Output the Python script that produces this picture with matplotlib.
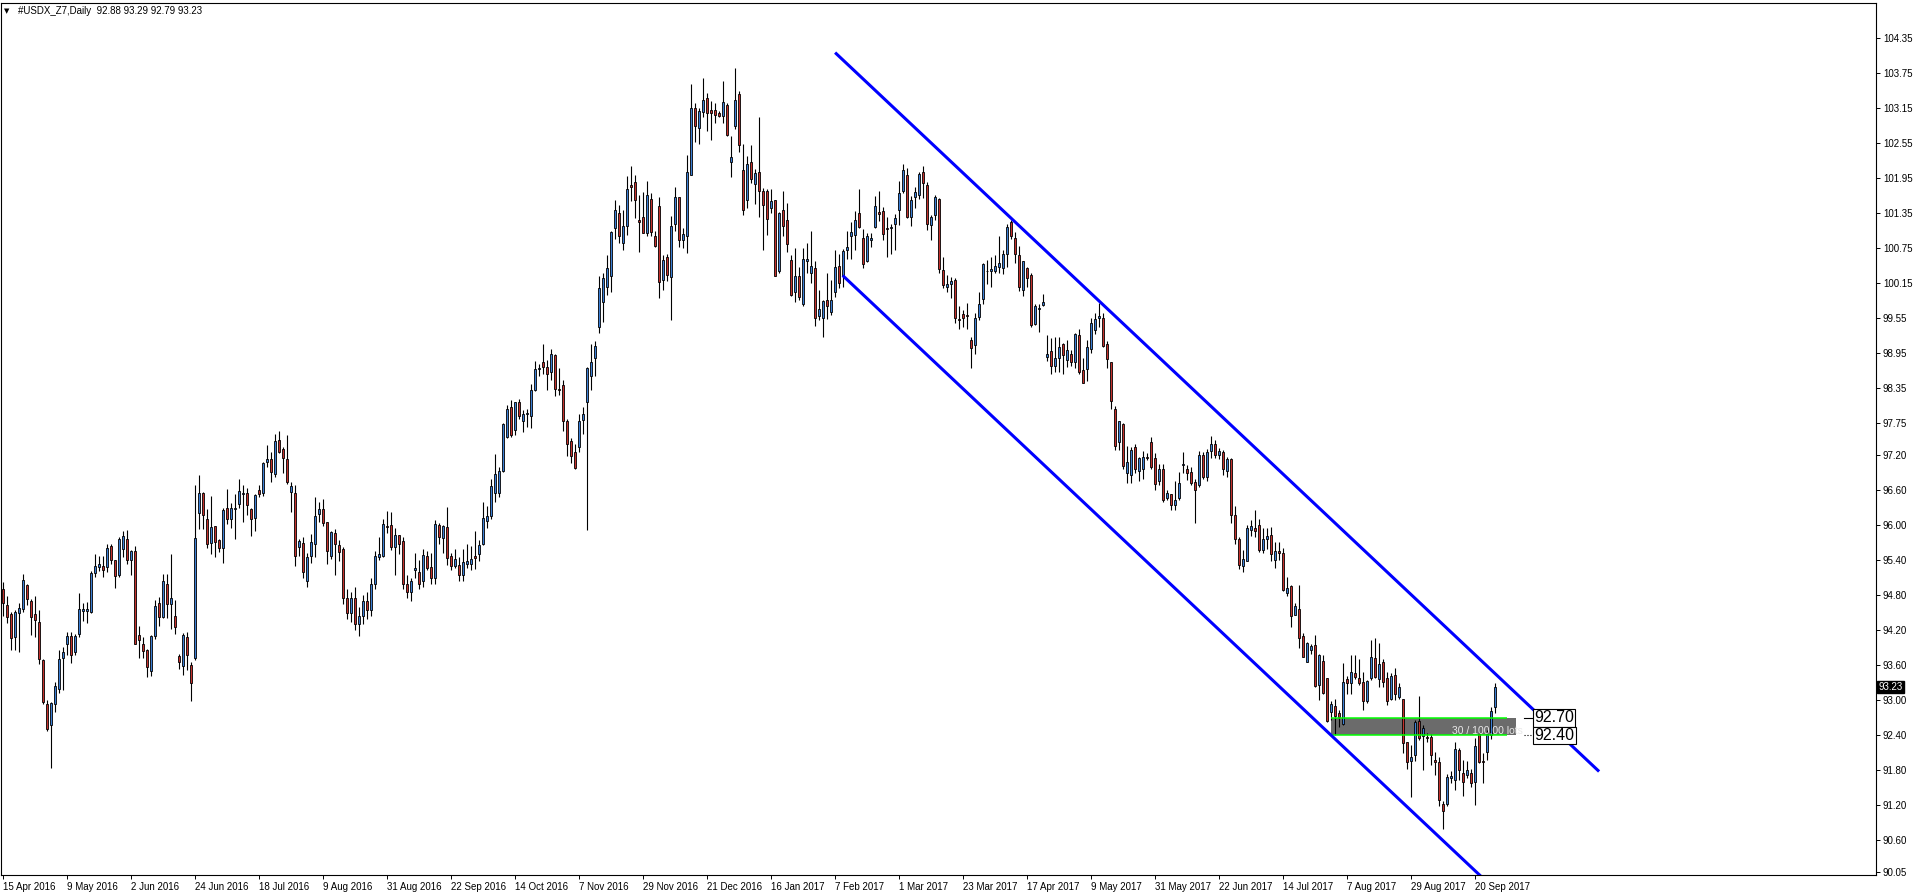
import numpy as np
import matplotlib
matplotlib.use("Agg")
import matplotlib.pyplot as plt
from matplotlib.patches import Rectangle
from matplotlib.transforms import blended_transform_factory

plt.rcParams['font.family'] = ['Liberation Sans', 'DejaVu Sans']

# daily bars, #USDX_Z7, 15 Apr 2016 .. late Sep 2017
opens = [
    94.90, 94.63, 94.48, 94.08, 94.49, 94.57, 94.97, 94.71, 94.48, 94.34,
    93.69, 92.94, 92.57, 92.94, 93.20, 93.73, 93.96, 94.10, 93.82, 94.13,
    94.53, 94.53, 94.52, 95.18, 95.29, 95.31, 95.29, 95.64, 95.41, 95.14,
    95.60, 95.77, 95.41, 95.56, 94.12, 93.96, 93.86, 93.51, 94.11, 94.67,
    94.43, 95.00, 94.65, 94.44, 93.76, 93.59, 94.08, 93.60, 93.73, 96.21,
    96.56, 96.10, 95.70, 95.98, 95.74, 95.61, 96.30, 96.11, 96.28, 96.37,
    96.54, 96.55, 96.27, 96.13, 96.60, 96.55, 97.09, 97.14, 96.87, 97.46,
    97.30, 97.14, 96.57, 96.56, 95.62, 95.69, 95.05, 95.48, 95.67, 96.19,
    96.27, 96.05, 95.48, 95.86, 95.66, 95.59, 94.75, 94.50, 94.75, 94.30,
    94.45, 94.70, 94.55, 95.00, 95.46, 95.48, 95.99, 96.00, 95.62, 95.83,
    95.73, 95.00, 94.85, 95.24, 95.20, 95.05, 95.47, 95.28, 95.10, 96.00,
    95.78, 95.97, 95.47, 95.31, 95.32, 95.15, 95.33, 95.33, 95.48, 95.50,
    95.67, 96.08, 96.15, 96.56, 96.55, 96.93, 97.52, 98.02, 97.63, 98.11,
    97.78, 97.90, 97.88, 98.32, 98.67, 98.80, 98.72, 98.62, 98.91, 98.33,
    98.40, 97.78, 97.44, 97.25, 97.34, 97.80, 98.11, 98.56, 98.86, 99.40,
    99.82, 100.09, 100.28, 101.10, 101.35, 100.83, 101.12, 101.83, 101.88, 101.23,
    101.28, 101.00, 101.59, 100.96, 101.47, 100.21, 100.59, 100.26, 101.16, 101.63,
    100.88, 100.96, 102.01, 103.15, 102.81, 103.08, 103.32, 103.12, 103.12, 103.07,
    103.01, 103.21, 102.23, 102.85, 103.39, 102.09, 101.57, 102.23, 101.85, 102.05,
    101.73, 101.72, 101.43, 101.58, 100.35, 101.40, 101.23, 100.55, 99.99, 100.27,
    99.80, 100.53, 100.32, 100.40, 99.59, 99.56, 99.86, 99.66, 99.99, 100.45,
    100.28, 100.71, 100.95, 100.97, 101.35, 100.93, 100.53, 100.88, 101.11, 101.37,
    101.38, 101.09, 101.10, 101.17, 101.41, 101.73, 102.00, 101.29, 101.63, 101.66,
    102.06, 101.83, 101.15, 101.31, 101.59, 100.37, 100.08, 100.14, 100.20, 99.54,
    99.62, 99.60, 99.17, 99.09, 99.57, 99.87, 100.35, 100.35, 100.35, 100.42,
    100.40, 100.64, 101.19, 100.93, 100.63, 100.04, 100.40, 100.29, 99.45, 99.70,
    99.77, 98.88, 98.99, 98.73, 98.86, 99.10, 98.84, 98.93, 98.79, 99.26,
    98.66, 98.67, 99.02, 99.35, 99.56, 99.55, 99.11, 98.79, 98.00, 97.42,
    97.74, 96.89, 96.86, 97.34, 96.93, 96.96, 97.16, 97.43, 97.16, 96.75,
    96.96, 96.47, 96.53, 96.35, 96.46, 97.03, 96.97, 96.91, 96.74, 96.69,
    97.21, 96.83, 97.28, 97.39, 97.21, 97.26, 96.93, 97.13, 96.17, 95.77,
    95.31, 95.39, 95.91, 95.96, 96.01, 95.58, 95.77, 95.83, 95.40, 95.56,
    95.53, 94.84, 94.96, 94.47, 94.56, 94.10, 93.66, 93.86, 93.95, 93.26,
    93.67, 93.38, 92.80, 92.90, 92.78, 92.59, 93.36, 93.29, 93.46, 93.38,
    93.31, 92.99, 93.39, 93.72, 93.36, 93.65, 93.38, 93.02, 93.43, 93.06,
    93.02, 92.29, 91.96, 92.06, 92.64, 92.38, 92.37, 92.37, 91.98, 91.95,
    91.22, 91.22, 91.67, 91.63, 92.15, 91.75, 91.72, 91.75, 91.60, 92.43,
    91.96, 92.11, 92.40, 92.88,
]
highs = [
    95.02, 94.78, 94.52, 94.54, 94.66, 95.16, 95.00, 94.74, 94.78, 94.54,
    93.70, 93.01, 92.97, 93.32, 93.86, 93.92, 94.17, 94.17, 94.14, 94.84,
    94.67, 94.68, 95.22, 95.50, 95.47, 95.47, 95.67, 95.67, 95.41, 95.80,
    95.90, 95.91, 95.58, 95.64, 94.27, 94.08, 93.88, 94.12, 94.72, 94.77,
    95.16, 95.16, 95.50, 94.72, 93.80, 94.16, 94.17, 93.65, 96.69, 96.86,
    96.57, 96.27, 96.50, 95.99, 95.77, 96.30, 96.62, 96.38, 96.54, 96.80,
    96.69, 96.63, 96.29, 96.53, 96.69, 97.09, 97.37, 97.26, 97.57, 97.61,
    97.34, 97.54, 96.74, 96.69, 95.76, 95.80, 95.53, 95.85, 96.49, 96.39,
    96.45, 96.05, 95.90, 95.94, 95.75, 95.62, 94.90, 94.85, 94.95, 94.60,
    94.80, 94.85, 95.10, 95.56, 95.79, 96.11, 96.25, 96.22, 95.96, 95.83,
    95.80, 95.15, 95.10, 95.53, 95.40, 95.60, 95.56, 95.52, 96.09, 96.03,
    96.00, 96.32, 95.52, 95.60, 95.45, 95.60, 95.68, 95.64, 95.90, 95.75,
    96.40, 96.33, 96.80, 97.22, 96.99, 97.76, 98.06, 98.15, 98.12, 98.16,
    97.97, 97.99, 98.42, 98.82, 98.77, 99.11, 98.83, 99.02, 98.93, 98.70,
    98.49, 97.82, 97.49, 97.39, 97.91, 98.02, 98.72, 99.10, 99.16, 100.27,
    100.32, 100.63, 101.04, 101.57, 101.48, 101.40, 101.99, 102.15, 102.00, 101.66,
    101.71, 101.90, 101.70, 101.04, 101.62, 100.63, 100.65, 101.30, 101.80, 101.63,
    101.09, 102.35, 103.56, 103.23, 103.15, 103.67, 103.41, 103.27, 103.24, 103.10,
    103.61, 103.23, 102.67, 103.84, 103.44, 102.53, 102.33, 102.52, 102.10, 103.00,
    101.78, 101.76, 101.76, 101.58, 101.36, 101.73, 101.52, 100.63, 100.75, 100.42,
    100.75, 100.84, 101.04, 100.53, 100.03, 99.86, 100.32, 100.21, 100.72, 100.65,
    100.73, 101.04, 101.20, 101.39, 101.77, 101.07, 101.00, 101.00, 101.64, 101.73,
    101.46, 101.28, 101.17, 101.33, 101.90, 102.19, 102.12, 101.64, 101.80, 102.06,
    102.16, 101.89, 101.32, 101.66, 101.60, 100.59, 100.29, 100.26, 100.23, 99.76,
    99.69, 99.81, 99.23, 99.63, 99.99, 100.50, 100.55, 100.59, 100.63, 100.95,
    100.72, 101.17, 101.23, 101.03, 100.79, 100.53, 100.43, 100.33, 99.79, 99.80,
    99.96, 99.26, 99.21, 99.22, 99.23, 99.12, 99.17, 99.00, 99.30, 99.36,
    98.86, 99.17, 99.56, 99.63, 99.81, 99.64, 99.16, 98.79, 98.05, 97.79,
    97.76, 97.35, 97.34, 97.39, 97.17, 97.28, 97.23, 97.52, 97.23, 97.05,
    97.05, 96.60, 96.54, 96.75, 96.92, 97.25, 97.03, 96.99, 96.80, 97.28,
    97.26, 97.30, 97.53, 97.46, 97.32, 97.29, 97.17, 97.15, 96.33, 95.79,
    95.58, 96.00, 96.09, 96.26, 96.10, 95.96, 95.95, 95.97, 95.72, 95.71,
    95.61, 95.12, 94.97, 94.67, 94.97, 94.16, 94.00, 93.96, 94.12, 93.80,
    93.78, 93.38, 92.98, 93.02, 92.83, 93.64, 93.42, 93.78, 93.78, 93.71,
    93.48, 93.35, 94.03, 94.06, 93.99, 93.70, 93.49, 93.46, 93.55, 93.29,
    93.03, 92.29, 92.23, 92.66, 93.07, 92.58, 92.44, 92.43, 92.12, 92.02,
    91.27, 91.74, 91.79, 92.29, 92.19, 91.98, 91.96, 91.83, 92.35, 92.45,
    92.09, 92.49, 92.89, 93.29,
]
lows = [
    94.44, 94.33, 93.86, 93.86, 93.83, 94.52, 94.63, 94.12, 94.09, 93.63,
    92.94, 92.48, 91.84, 92.80, 93.13, 93.18, 93.77, 93.64, 93.77, 94.09,
    94.36, 94.32, 94.50, 95.12, 95.22, 95.12, 95.20, 95.34, 94.93, 95.12,
    95.45, 95.33, 95.14, 93.96, 93.73, 93.73, 93.40, 93.42, 94.05, 94.28,
    94.41, 94.41, 94.22, 94.14, 93.54, 93.43, 93.52, 92.98, 93.69, 95.94,
    95.94, 95.61, 95.50, 95.46, 95.54, 95.36, 96.02, 95.95, 95.77, 96.30,
    96.06, 96.17, 95.82, 95.90, 96.49, 96.50, 97.00, 96.74, 96.83, 97.24,
    96.89, 96.70, 96.23, 95.30, 95.47, 95.10, 94.95, 95.36, 95.46, 96.06,
    95.98, 95.34, 95.42, 95.15, 95.39, 94.65, 94.40, 94.35, 94.20, 94.10,
    94.30, 94.40, 94.45, 94.90, 95.40, 95.46, 95.86, 95.58, 95.15, 95.51,
    94.90, 94.75, 94.70, 95.10, 94.90, 94.95, 95.23, 95.00, 95.00, 95.68,
    95.53, 95.32, 95.23, 95.26, 95.05, 95.05, 95.26, 95.24, 95.25, 95.39,
    95.66, 95.95, 96.11, 96.40, 96.49, 96.92, 97.49, 97.52, 97.54, 97.82,
    97.60, 97.69, 97.67, 98.30, 98.55, 98.59, 98.32, 98.49, 98.22, 98.23,
    97.62, 97.19, 97.07, 96.96, 97.26, 97.56, 95.91, 98.32, 98.55, 99.30,
    99.49, 99.95, 100.00, 100.91, 100.83, 100.72, 100.97, 101.55, 101.27, 100.69,
    101.00, 100.95, 100.95, 100.76, 99.89, 100.04, 100.19, 99.51, 101.04, 100.76,
    100.75, 100.66, 102.00, 102.57, 102.53, 102.99, 102.76, 102.61, 102.89, 103.00,
    102.89, 102.67, 101.96, 102.79, 102.40, 101.31, 101.43, 101.86, 101.51, 101.28,
    100.71, 100.97, 101.35, 100.28, 100.33, 100.96, 100.69, 99.93, 99.83, 99.86,
    99.76, 100.32, 100.16, 99.41, 99.52, 99.22, 99.53, 99.61, 99.92, 100.06,
    100.09, 100.56, 100.57, 100.71, 101.09, 100.41, 100.51, 100.77, 101.09, 101.21,
    100.88, 100.60, 100.64, 100.71, 101.15, 101.70, 101.26, 101.12, 101.43, 101.59,
    101.60, 101.06, 100.88, 101.23, 100.33, 100.06, 99.99, 99.89, 99.47, 99.36,
    99.39, 99.37, 98.69, 98.93, 99.52, 99.80, 100.13, 100.09, 100.32, 100.33,
    100.30, 100.43, 100.90, 100.50, 100.02, 99.93, 100.09, 99.39, 99.43, 99.31,
    99.75, 98.82, 98.59, 98.63, 98.63, 98.59, 98.72, 98.73, 98.70, 98.60,
    98.43, 98.48, 98.95, 99.28, 99.40, 99.06, 98.69, 97.99, 97.29, 97.29,
    96.96, 96.72, 96.72, 96.89, 96.76, 96.79, 97.12, 96.97, 96.60, 96.69,
    96.40, 96.43, 96.26, 96.26, 96.44, 96.89, 96.78, 96.69, 96.03, 96.66,
    96.80, 96.75, 97.15, 97.16, 97.13, 96.86, 96.83, 96.03, 95.68, 95.25,
    95.20, 95.38, 95.82, 95.79, 95.55, 95.53, 95.60, 95.39, 95.26, 95.40,
    94.88, 94.79, 94.26, 94.46, 93.89, 93.75, 93.65, 93.80, 93.23, 93.00,
    93.10, 92.63, 92.66, 92.40, 92.55, 92.58, 93.11, 93.11, 93.36, 93.26,
    92.83, 92.95, 93.35, 93.38, 93.23, 93.23, 92.92, 93.00, 93.00, 93.03,
    92.10, 91.83, 91.35, 91.96, 92.32, 91.80, 92.29, 91.89, 91.72, 91.18,
    90.79, 91.18, 91.58, 91.46, 91.63, 91.36, 91.66, 91.52, 91.20, 91.92,
    91.58, 91.98, 92.33, 92.79,
]
closes = [
    94.67, 94.42, 94.06, 94.52, 94.59, 95.07, 94.73, 94.43, 94.37, 93.70,
    92.97, 92.50, 92.96, 93.24, 93.70, 93.82, 94.11, 93.78, 94.11, 94.56,
    94.57, 94.56, 95.19, 95.30, 95.33, 95.24, 95.61, 95.40, 95.13, 95.77,
    95.82, 95.41, 95.56, 93.96, 94.03, 93.84, 93.57, 94.10, 94.61, 94.42,
    95.04, 94.65, 94.75, 94.26, 93.65, 94.12, 93.78, 93.29, 95.78, 96.55,
    96.18, 95.68, 95.97, 95.72, 95.61, 96.26, 96.10, 96.30, 96.30, 96.58,
    96.55, 96.35, 96.10, 96.51, 96.54, 97.06, 97.14, 96.91, 97.44, 97.26,
    97.15, 96.74, 96.67, 95.48, 95.73, 95.20, 95.46, 95.72, 96.16, 96.27,
    96.03, 95.56, 95.88, 95.67, 95.55, 94.75, 94.50, 94.75, 94.30, 94.45,
    94.70, 94.55, 95.00, 95.47, 95.51, 96.02, 95.97, 95.63, 95.83, 95.67,
    95.00, 94.85, 95.05, 95.27, 95.00, 95.49, 95.26, 95.10, 96.02, 95.79,
    95.99, 95.44, 95.31, 95.42, 95.15, 95.37, 95.39, 95.43, 95.44, 95.66,
    96.12, 96.15, 96.67, 96.87, 96.93, 97.74, 98.00, 97.54, 98.11, 97.88,
    97.90, 97.93, 98.32, 98.67, 98.69, 98.71, 98.59, 98.93, 98.33, 98.31,
    97.78, 97.40, 97.19, 96.98, 97.79, 97.91, 98.70, 98.80, 99.07, 100.06,
    100.23, 100.40, 101.02, 101.40, 100.96, 101.13, 101.76, 101.79, 101.57, 101.20,
    101.00, 101.66, 101.03, 100.79, 100.17, 100.55, 100.29, 101.13, 101.63, 100.89,
    100.99, 102.05, 103.15, 102.85, 103.10, 103.29, 103.06, 103.06, 103.03, 103.02,
    103.26, 102.68, 102.31, 103.29, 102.51, 101.41, 102.19, 101.94, 102.04, 101.72,
    101.48, 101.24, 101.55, 100.28, 101.35, 101.13, 100.82, 99.95, 100.28, 99.92,
    100.56, 100.57, 100.44, 99.56, 99.70, 99.85, 99.75, 99.86, 100.42, 100.16,
    100.70, 100.76, 101.02, 101.23, 101.11, 100.47, 100.95, 100.93, 101.47, 101.33,
    100.99, 101.07, 101.11, 101.26, 101.69, 102.09, 101.28, 101.57, 101.71, 102.02,
    101.86, 101.16, 101.28, 101.63, 100.39, 100.11, 100.13, 100.19, 99.56, 99.52,
    99.56, 99.59, 99.03, 99.56, 99.80, 100.48, 100.36, 100.39, 100.44, 100.49,
    100.64, 101.11, 100.96, 100.64, 100.08, 100.52, 100.23, 99.44, 99.76, 99.73,
    99.82, 98.93, 98.73, 98.86, 99.05, 98.92, 99.00, 98.79, 99.28, 98.62,
    98.43, 99.06, 99.46, 99.53, 99.59, 99.08, 98.85, 98.13, 97.36, 97.79,
    97.02, 97.08, 97.29, 96.96, 97.15, 97.17, 97.15, 96.99, 96.71, 96.97,
    96.43, 96.56, 96.35, 96.44, 96.73, 97.05, 96.89, 96.72, 96.60, 97.21,
    96.83, 97.25, 97.40, 97.20, 97.27, 96.96, 97.13, 96.17, 95.77, 95.32,
    95.42, 95.95, 95.99, 95.90, 95.58, 95.77, 95.81, 95.50, 95.56, 95.53,
    94.89, 94.93, 94.44, 94.62, 94.06, 93.75, 93.99, 93.93, 93.25, 93.78,
    93.12, 92.65, 92.93, 92.73, 92.72, 93.31, 93.29, 93.48, 93.40, 93.29,
    92.98, 93.33, 93.75, 93.40, 93.63, 93.32, 92.99, 93.42, 93.11, 93.22,
    92.26, 91.95, 92.03, 92.63, 92.35, 92.52, 92.35, 92.06, 91.95, 91.29,
    91.11, 91.69, 91.70, 92.16, 91.80, 91.60, 91.80, 91.59, 92.22, 91.95,
    91.94, 92.43, 92.82, 93.23,
]

date_labels = ['15 Apr 2016', '9 May 2016', '2 Jun 2016', '24 Jun 2016', '18 Jul 2016',
               '9 Aug 2016', '31 Aug 2016', '22 Sep 2016', '14 Oct 2016', '7 Nov 2016',
               '29 Nov 2016', '21 Dec 2016', '16 Jan 2017', '7 Feb 2017', '1 Mar 2017',
               '23 Mar 2017', '17 Apr 2017', '9 May 2017', '31 May 2017', '22 Jun 2017',
               '14 Jul 2017', '7 Aug 2017', '29 Aug 2017', '20 Sep 2017']
bars_per_label = 16

price_ticks = [104.35, 103.75, 103.15, 102.55, 101.95, 101.35, 100.75, 100.15, 99.55,
               98.95, 98.35, 97.75, 97.20, 96.60, 96.00, 95.40, 94.80, 94.20, 93.60,
               93.00, 92.40, 91.80, 91.20, 90.60, 90.05]

# trend channel drawn on the chart: (bar index, price) end points
upper_channel = [(208.1, 104.10), (399.1, 91.78)]
lower_channel = [(210.0, 100.28), (380.0, 89.31)]

# grey zone with the two green levels
zone_low, zone_high = 92.40, 92.70
zone_start, zone_end = 332.1, 378.2
zone_text = '30 / 100.00 lots'

title = '#USDX_Z7,Daily  92.88 93.29 92.79 93.23'
last_price = closes[-1]

BLUE = '#3a7ed4'
RED = '#c3302c'

o = np.array(opens)
h = np.array(highs)
l = np.array(lows)
c = np.array(closes)
x = np.arange(len(o))
up = c >= o

fig = plt.figure(figsize=(19.16, 8.96), dpi=100)
ax = fig.add_axes([1 / 1916, 21 / 896, 1875 / 1916, 872 / 896])
ax.set_xlim(-0.425, 468.325)
ax.set_ylim(90.006, 104.95)

# zone behind the candles
rect = Rectangle((zone_start, zone_low), zone_end - zone_start, zone_high - zone_low,
                 facecolor='#6b6b6b', edgecolor='none', zorder=1)
ax.add_patch(rect)

# candles
ax.vlines(x, l, h, colors='black', linewidth=0.8, zorder=2)
body_bottom = np.minimum(o, c)
body_height = np.maximum(np.abs(c - o), 0.012)
ax.bar(x, body_height, bottom=body_bottom, width=0.56,
       color=np.where(up, BLUE, RED), edgecolor='black', linewidth=0.6, zorder=3)

# green levels and zone text
ax.hlines([zone_high, zone_low], zone_start, zone_end - 2.2, colors='#00ff00',
          linewidth=1.1, zorder=4)
t = ax.text(362.3, 92.47, zone_text, color='#e8e8e8', fontsize=7.5,
            va='center', ha='left', zorder=4)
t.set_clip_path(rect)

# price labels of the levels
for lvl, style in [(zone_high, '-'), (zone_low, ':')]:
    ax.plot([380.2, 382.6], [lvl, lvl], color='black', linewidth=0.8, linestyle=style, zorder=4)
    ax.text(382.9, lvl, f'{lvl:.2f}', fontsize=11.5, va='center', ha='left', color='black',
            zorder=6, bbox=dict(boxstyle='square,pad=0.08', fc='white', ec='black', lw=0.8))

# channel
for seg in (upper_channel, lower_channel):
    ax.plot([seg[0][0], seg[1][0]], [seg[0][1], seg[1][1]], color='#0000ff',
            linewidth=2.2, solid_capstyle='butt', zorder=5)

# axes styling
for sp in ax.spines.values():
    sp.set_color('black')
    sp.set_linewidth(0.8)

ax.yaxis.tick_right()
ax.set_yticks(price_ticks)
ax.set_yticklabels([f'{v:.2f}' for v in price_ticks])
ax.tick_params(axis='y', direction='out', length=3, width=0.7, pad=2, labelsize=7,
               colors='black')

ax.set_xticks([k * bars_per_label for k in range(len(date_labels))])
ax.set_xticklabels(date_labels)
ax.tick_params(axis='x', direction='out', length=3, width=0.7, pad=2, labelsize=7,
               colors='black')
for lbl in ax.get_xticklabels():
    lbl.set_horizontalalignment('left')

# current price box on the axis
trans = blended_transform_factory(ax.transAxes, ax.transData)
ax.text(1.0012, last_price, f'{last_price:.2f}', transform=trans, fontsize=7,
        color='white', va='center', ha='left', zorder=7,
        bbox=dict(boxstyle='square,pad=0.12', fc='black', ec='black'))

fig.text(4 / 1916, 1 - 11 / 896, '\u25bc', fontsize=5, va='center', ha='left',
         family='DejaVu Sans')
fig.text(18 / 1916, 1 - 11 / 896, title, fontsize=7, va='center', ha='left')

fig.savefig('out.png', dpi=100, facecolor='white')
